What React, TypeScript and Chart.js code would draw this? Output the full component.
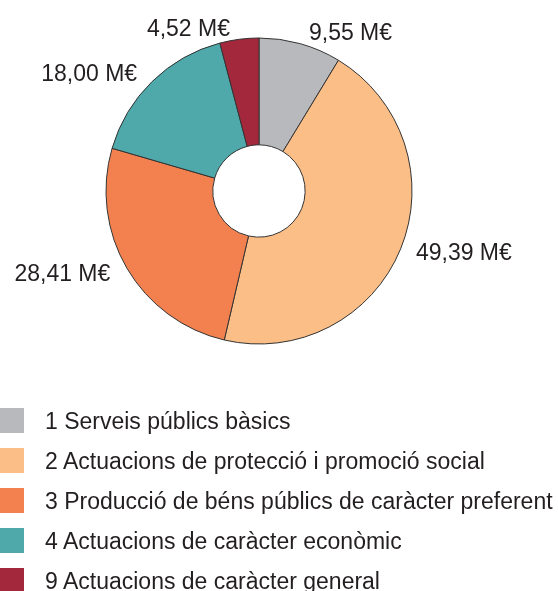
import React, { useEffect, useRef } from "react";
import { Chart, registerables } from "chart.js";

Chart.register(...registerables);

const categories = [
  "1 Serveis públics bàsics",
  "2 Actuacions de protecció i promoció social",
  "3 Producció de béns públics de caràcter preferent",
  "4 Actuacions de caràcter econòmic",
  "9 Actuacions de caràcter general",
];
const values = [9.55, 49.39, 28.41, 18.0, 4.52];
const valueLabels = ["9,55 M€", "49,39 M€", "28,41 M€", "18,00 M€", "4,52 M€"];
const colors = ["#b8b9bc", "#fbbe87", "#f2814f", "#4fa9ab", "#a3283c"];

const FONT = "'Liberation Sans', Arial, Helvetica, sans-serif";

const labelPlugin = {
  id: "outerLabels",
  afterDatasetsDraw(chart: any) {
    const ctx = chart.ctx;
    const meta = chart.getDatasetMeta(0);
    ctx.save();
    ctx.font = `23px ${FONT}`;
    ctx.fillStyle = "#231f20";
    ctx.textBaseline = "middle";
    meta.data.forEach((arc: any, i: number) => {
      const { x, y, startAngle, endAngle, outerRadius } = arc.getProps(
        ["x", "y", "startAngle", "endAngle", "outerRadius"],
        true
      );
      const mid = (startAngle + endAngle) / 2;
      const r = outerRadius + 10;
      const px = x + Math.cos(mid) * r;
      const py = y + Math.sin(mid) * r;
      const right = Math.cos(mid) >= 0;
      ctx.textAlign = right ? "left" : "right";
      const dy = 3 * Math.max(0, Math.sin(mid));
      ctx.fillText(valueLabels[i], right ? px + 6 : px - 8, py + dy);
    });
    ctx.restore();
  },
};

export default function App() {
  const ref = useRef<HTMLCanvasElement>(null);
  useEffect(() => {
    if (!ref.current) return;
    const chart = new Chart(ref.current, {
      type: "doughnut",
      data: {
        labels: categories,
        datasets: [
          {
            data: values,
            backgroundColor: colors,
            borderColor: "#333333",
            borderWidth: 1,
          },
        ],
      },
      options: {
        responsive: false,
        animation: false,
        devicePixelRatio: 1,
        radius: 153,
        cutout: 46,
        layout: { padding: { left: 106, right: 146, top: 38, bottom: 247 } },
        plugins: {
          legend: { display: false },
          tooltip: { enabled: false },
        },
      },
      plugins: [labelPlugin],
    });
    return () => chart.destroy();
  }, []);

  return (
    <div
      style={{
        position: "absolute",
        left: 0,
        top: 0,
        width: 558,
        height: 591,
        overflow: "hidden",
        background: "#fff",
        fontFamily: FONT,
      }}
    >
      <canvas ref={ref} width={558} height={591} style={{ position: "absolute", left: 0, top: 0 }} />
      {categories.map((c, i) => (
        <React.Fragment key={c}>
          <div
            style={{
              position: "absolute",
              left: 0,
              top: 408 + 40 * i,
              width: 24,
              height: 25,
              background: colors[i],
            }}
          />
          <div
            style={{
              position: "absolute",
              left: 45,
              top: 409 + 40 * i,
              height: 25,
              lineHeight: "25px",
              fontSize: 23,
              color: "#231f20",
              whiteSpace: "nowrap",
            }}
          >
            {c}
          </div>
        </React.Fragment>
      ))}
    </div>
  );
}
